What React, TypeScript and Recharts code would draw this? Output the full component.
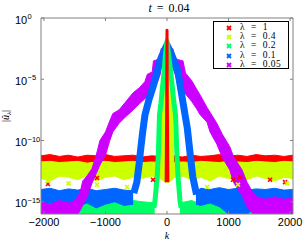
import React from 'react';
import { ComposedChart, Area, Line, Scatter, XAxis, YAxis, Legend } from 'recharts';

// ---------- axes / labels ----------
const X_DOMAIN = [-2048, 2048];
const X_TICKS = [-2000, -1000, 0, 1000, 2000];
const Y_DOMAIN = [1e-16, 1];
const Y_TICKS = [1e-15, 1e-10, 1e-5, 1];
const LEGEND_LABELS = ['λ = 1', 'λ = 0.4', 'λ = 0.2', 'λ = 0.1', 'λ = 0.05'];
const COLORS = ['#ff0000', '#ccff00', '#00ff66', '#0066ff', '#cc00ff'];

// ---------- data (log10 of |û_λ(k)|) ----------
// λ = 1 : noise floor band + narrow central spike + a few stray points
const RED_FLOOR_K = [-2048, -1900, -1750, -1600, -1450, -1300, -1150, -1000, -850, -700, -550, -400, -250, -100, 0, 100, 250, 400, 550, 700, 850, 1000, 1150, 1300, 1450, 1600, 1750, 1900, 2048];
const RED_FLOOR_HI = [-11.25, -11.15, -11.3, -11.2, -11.35, -11.2, -11.25, -11.15, -11.3, -11.25, -11.2, -11.35, -11.25, -11.3, -11.3, -11.25, -11.35, -11.2, -11.3, -11.25, -11.15, -11.3, -11.2, -11.3, -11.15, -11.25, -11.2, -11.3, -11.2];
const RED_FLOOR_LO = -12.3;
const RED_SPIKE_K = [-14, -5, -1.5, 0, 1.5, 5, 14];
const RED_SPIKE_E = [-13.4, -7, -2.5, -1.0, -2.5, -7, -13.4];
const RED_OUT_K = [-1935, -1138, -228, 1073, 1187, 1675, 1919];
const RED_OUT_E = [-13.55, -13.06, -13.2, -13.2, -12.98, -13.2, -13.4];

// λ = 0.4 : floor band with central spike
const YEL_K = [-2048, -1900, -1750, -1600, -1450, -1300, -1150, -1000, -850, -700, -550, -400, -250, -110, -90, -55, -30, -12, 0, 12, 30, 55, 90, 110, 250, 400, 550, 700, 850, 1000, 1150, 1300, 1450, 1600, 1750, 1900, 2048];
const YEL_HI = [-11.75, -11.7, -11.8, -11.75, -11.7, -11.85, -11.75, -11.7, -11.8, -11.75, -11.7, -11.8, -11.75, -11.8, -8.0, -4.0, -2.0, -1.6, -1.5, -1.6, -2.0, -4.0, -8.0, -11.8, -11.75, -11.8, -11.7, -11.75, -11.8, -11.7, -11.75, -11.8, -11.7, -11.75, -11.8, -11.7, -11.75];
const YEL_LO = [-13.1, -13.3, -12.9, -13.0, -13.2, -12.9, -13.3, -13.0, -12.9, -13.2, -13.0, -13.1, -12.9, -13.0, -13.2, -13.3, -13.4, -13.4, -13.4, -13.4, -13.4, -13.3, -13.2, -13.0, -12.9, -13.2, -13.0, -13.3, -12.9, -13.1, -13.0, -13.2, -12.9, -13.1, -13.3, -13.0, -13.1];
const YEL_OUT_K = [-1935, -1600, -1138, -650, 650, 1154, 1951];
const YEL_OUT_E = [-13.3, -13.5, -13.6, -13.8, -13.8, -13.6, -13.5];

// λ = 0.2 : tent + floor
const GRN_TENT_K = [-215, -195, -160, -140, -122, -100, -45, -25, 0, 25, 57, 115, 138, 160, 180, 211, 230];
const GRN_TENT_E = [-15.5, -14.9, -13, -11, -7.9, -7.0, -4.24, -3.0, -1.9, -3.0, -4.24, -7.0, -7.9, -11, -13, -14.9, -15.5];
const GRN_FLOOR_LK = [-2048, -1900, -1750, -1600, -1450, -1300, -1150, -1000, -850, -700, -550, -400, -200];
const GRN_FLOOR_LHI = [-15.3, -15.1, -15.4, -15.0, -15.2, -14.9, -15.3, -15.0, -14.8, -15.2, -14.9, -15.0, -15.1];
const GRN_FLOOR_RK = [210, 400, 550, 700, 850, 1000, 1150, 1300, 1450, 1600, 1750, 1900, 2048];
const GRN_FLOOR_RHI = [-15.1, -14.9, -15.2, -14.8, -15.0, -15.3, -15.1, -15.4, -15.2, -15.3, -15.1, -15.4, -15.2];
const GRN_FLOOR_LO = -16;

// λ = 0.1 : tent + floor
const BLU_TENT_K = [-540, -490, -455, -430, -400, -358, -290, -220, -154, -100, -40, 0, 40, 100, 171, 230, 293, 330, 374, 420, 480];
const BLU_TENT_E = [-14.3, -13.4, -12.0, -10.8, -9.5, -7.9, -6.6, -5.5, -4.24, -3.3, -2.6, -2.2, -2.6, -3.3, -4.24, -6.0, -7.9, -9.0, -11.0, -13.0, -14.4];
const BLU_FLOOR_LK = [-2048, -1900, -1750, -1600, -1450, -1300, -1150, -1000, -850, -700, -550];
const BLU_FLOOR_LHI = [-14.0, -13.9, -14.1, -13.95, -14.05, -13.9, -14.1, -14.0, -13.9, -14.05, -14.1];
const BLU_FLOOR_LLO = [-15.2, -15.1, -15.3, -15.15, -15.4, -15.1, -15.5, -15.2, -15.0, -15.3, -15.2];
const BLU_FLOOR_RK = [470, 550, 700, 850, 1000, 1150, 1300, 1450, 1600, 1750, 1900, 2048];
const BLU_FLOOR_RHI = [-14.2, -13.9, -14.0, -13.85, -14.0, -13.9, -14.05, -13.95, -14.0, -13.9, -14.05, -14.0];
const BLU_FLOOR_RLO = [-15.2, -15.3, -15.1, -15.4, -16, -16, -16, -15.5, -15.5, -15.5, -15.5, -15.5];

// λ = 0.05 : wide staircase band
const MAG_K = [-2048, -1900, -1750, -1600, -1520, -1450, -1410, -1370, -1300, -1220, -1150, -1090, -1000, -930, -880, -780, -680, -550, -450, -360, -320, -240, -220, -160, -110, -95, 0, 95, 135, 180, 260, 300, 400, 480, 540, 650, 700, 810, 900, 1020, 1080, 1220, 1300, 1400, 1460, 1600, 1750, 1900, 2048];
const MAG_HI = [-15.0, -15.2, -14.9, -15.1, -15.0, -14.6, -14.2, -13.3, -12.9, -12.3, -11.2, -10.0, -9.3, -8.4, -7.8, -7.5, -6.9, -6.1, -5.7, -5.2, -4.6, -4.4, -3.5, -3.4, -3.3, -2.5, -2.45, -2.5, -3.3, -3.4, -3.5, -4.5, -5.1, -5.8, -6.3, -7.3, -7.7, -8.6, -9.5, -10.5, -11.3, -12.4, -13.4, -14.3, -14.6, -14.8, -14.6, -14.8, -14.7];
const MAG_LO = [-16, -16, -16, -16, -16, -16, -15.7, -15.3, -14.6, -13.5, -12.7, -12.0, -11.2, -10.0, -9.3, -8.6, -8.1, -7.5, -7.0, -6.6, -6.4, -6.0, -5.7, -5.3, -4.6, -4.1, -3.6, -4.1, -4.6, -5.3, -5.9, -6.2, -6.8, -7.4, -7.9, -8.5, -9.3, -10.3, -11.4, -12.4, -13.4, -14.5, -15.4, -16, -16, -16, -16, -16, -16];

// ---------- helpers building library data tables ----------
const pw = (e: number) => Math.pow(10, e);
const band = (ks: number[], lo: number[] | number, hi: number[]) =>
  ks.map((k, i) => ({ k, v: [pw(Array.isArray(lo) ? lo[i] : lo), pw(hi[i])] }));
const pts = (ks: number[], es: number[]) => ks.map((k, i) => ({ k, v: pw(es[i]) }));

const redFloor = band(RED_FLOOR_K, RED_FLOOR_LO, RED_FLOOR_HI);
const redSpike = pts(RED_SPIKE_K, RED_SPIKE_E);
const redOut = pts(RED_OUT_K, RED_OUT_E);
const yel = band(YEL_K, YEL_LO, YEL_HI);
const yelOut = pts(YEL_OUT_K, YEL_OUT_E);
const grnTent = pts(GRN_TENT_K, GRN_TENT_E);
const grnFloorL = band(GRN_FLOOR_LK, GRN_FLOOR_LO, GRN_FLOOR_LHI);
const grnFloorR = band(GRN_FLOOR_RK, GRN_FLOOR_LO, GRN_FLOOR_RHI);
const bluTent = pts(BLU_TENT_K, BLU_TENT_E);
const bluFloorL = band(BLU_FLOOR_LK, BLU_FLOOR_LLO, BLU_FLOOR_LHI);
const bluFloorR = band(BLU_FLOOR_RK, BLU_FLOOR_RLO, BLU_FLOOR_RHI);
const mag = band(MAG_K, MAG_LO, MAG_HI);

const SANS = '"Liberation Sans", Arial, Helvetica, sans-serif';
const SERIF = '"Liberation Serif", "DejaVu Serif", serif';
const AXIS_GRAY = '#808080';

const YTick = (props: any) => {
  const { x, y, payload } = props;
  const e = Math.round(Math.log10(payload.value));
  const ex = e < 0 ? '\u2212' + Math.abs(e) : String(e);
  return (
    <g>
      <text x={x - 26} y={y + 5.5} fontSize={11} fontFamily={SANS} fill="#000">10</text>
      <text x={x - 13.5} y={y + 1} fontSize={7.5} fontFamily={SANS} fill="#000">{ex}</text>
    </g>
  );
};

const XCross = (color: string) => (props: any) => {
  const { cx, cy } = props;
  if (cx == null || cy == null) return <g />;
  const s = 2;
  return (
    <g stroke={color} strokeWidth={1.6}>
      <line x1={cx - s} y1={cy - s} x2={cx + s} y2={cy + s} />
      <line x1={cx - s} y1={cy + s} x2={cx + s} y2={cy - s} />
    </g>
  );
};

const TitleLabel = (props: any) => {
  const vb = props.viewBox || { x: 41, y: 0, width: 252, height: 18 };
  return (
    <text x={vb.x + vb.width / 2 + 2} y={12} textAnchor="middle" fontSize={12} fontFamily={SERIF} fill="#000" style={{ wordSpacing: 2 }}>
      <tspan fontStyle="italic">t</tspan>
      <tspan> = 0.04</tspan>
    </text>
  );
};

const KLabel = (props: any) => {
  const vb = props.viewBox || { x: 41, y: 214, width: 252, height: 27 };
  return (
    <text x={vb.x + vb.width / 2} y={238.5} textAnchor="middle" fontSize={10} fontStyle="italic" fontFamily={SERIF} fill="#000">k</text>
  );
};

const ULabel = () => (
  <text transform="translate(8.5,116) rotate(-90)" textAnchor="middle" fontSize={10} fontFamily={SERIF} fill="#000">
    <tspan>|</tspan>
    <tspan fontStyle="italic">û</tspan>
    <tspan fontSize={7} dy={2} fontStyle="italic">λ</tspan>
    <tspan dy={-2}>|</tspan>
  </text>
);

const LegendBox = () => (
  <div style={{ position: 'relative', width: 76, height: 48, border: '1px solid #000', background: '#fff', boxSizing: 'border-box' }}>
    {LEGEND_LABELS.map((lab, i) => (
      <div key={lab} style={{ position: 'absolute', left: 0, top: 1 + i * 9.2, height: 9, width: 76 }}>
        <svg width={8} height={8} style={{ position: 'absolute', left: 11, top: 1 }}>
          <g stroke={COLORS[i]} strokeWidth={1.8}>
            <line x1={2} y1={2} x2={6} y2={6} />
            <line x1={2} y1={6} x2={6} y2={2} />
          </g>
        </svg>
        <span style={{ position: 'absolute', left: 26, top: -1, fontFamily: SERIF, fontSize: 9.5, lineHeight: '10px', whiteSpace: 'nowrap', wordSpacing: 3, letterSpacing: 0.5, color: '#000' }}>{lab}</span>
      </div>
    ))}
  </div>
);

export default function App() {
  return (
    <div style={{ position: 'absolute', left: 0, top: 0, width: 305, height: 241, background: '#fff' }}>
      <ComposedChart width={305} height={241} margin={{ top: 0, right: 0, bottom: 0, left: 0 }}>
        <XAxis
          dataKey="k"
          type="number"
          domain={X_DOMAIN}
          allowDataOverflow
          ticks={X_TICKS}
          height={27}
          tickSize={-3}
          tickMargin={7}
          stroke={AXIS_GRAY}
          tick={{ fill: '#000', fontSize: 11, fontFamily: SANS }}
          tickFormatter={(v: number) => String(v).replace('-', '\u2212')}
          label={<KLabel />}
        />
        <XAxis
          xAxisId="top"
          orientation="top"
          dataKey="k"
          type="number"
          domain={X_DOMAIN}
          allowDataOverflow
          ticks={X_TICKS}
          height={18}
          tickSize={-3}
          stroke={AXIS_GRAY}
          tickFormatter={() => ''}
          label={<TitleLabel />}
        />
        <YAxis
          dataKey="v"
          type="number"
          scale="log"
          domain={Y_DOMAIN}
          allowDataOverflow
          ticks={Y_TICKS}
          width={41}
          tickSize={-3}
          tickMargin={3}
          stroke={AXIS_GRAY}
          tick={<YTick />}
          label={<ULabel />}
        />
        <YAxis
          yAxisId="right"
          orientation="right"
          type="number"
          scale="log"
          domain={Y_DOMAIN}
          allowDataOverflow
          ticks={Y_TICKS}
          width={12}
          tickSize={-3}
          stroke={AXIS_GRAY}
          tickFormatter={() => ''}
        />
        <Legend
          layout="vertical"
          align="center"
          verticalAlign="middle"
          wrapperStyle={{ position: 'absolute', left: 213, top: 21, width: 76, height: 48, margin: 0, padding: 0 }}
          content={() => <LegendBox />}
        />

        <Area data={redFloor} dataKey="v" type="linear" stroke={COLORS[0]} strokeWidth={1} fill={COLORS[0]} fillOpacity={1} isAnimationActive={false} dot={false} activeDot={false} legendType="none" />
        <Area data={yel} dataKey="v" type="linear" stroke={COLORS[1]} strokeWidth={1} fill={COLORS[1]} fillOpacity={1} isAnimationActive={false} dot={false} activeDot={false} legendType="none" />
        <Scatter data={redOut} dataKey="v" fill={COLORS[0]} shape={XCross(COLORS[0])} isAnimationActive={false} legendType="none" />
        <Scatter data={yelOut} dataKey="v" fill={COLORS[1]} shape={XCross(COLORS[1])} isAnimationActive={false} legendType="none" />
        <Area data={grnFloorL} dataKey="v" type="linear" stroke={COLORS[2]} strokeWidth={1} fill={COLORS[2]} fillOpacity={1} isAnimationActive={false} dot={false} activeDot={false} legendType="none" />
        <Area data={grnFloorR} dataKey="v" type="linear" stroke={COLORS[2]} strokeWidth={1} fill={COLORS[2]} fillOpacity={1} isAnimationActive={false} dot={false} activeDot={false} legendType="none" />
        <Area data={bluFloorL} dataKey="v" type="linear" stroke={COLORS[3]} strokeWidth={1} fill={COLORS[3]} fillOpacity={1} isAnimationActive={false} dot={false} activeDot={false} legendType="none" />
        <Area data={bluFloorR} dataKey="v" type="linear" stroke={COLORS[3]} strokeWidth={1} fill={COLORS[3]} fillOpacity={1} isAnimationActive={false} dot={false} activeDot={false} legendType="none" />
        <Area data={mag} dataKey="v" type="linear" stroke={COLORS[4]} strokeWidth={1} fill={COLORS[4]} fillOpacity={1} isAnimationActive={false} dot={false} activeDot={false} legendType="none" />
        <Line data={bluTent} dataKey="v" type="linear" stroke={COLORS[3]} strokeWidth={7} strokeLinejoin="round" dot={false} activeDot={false} isAnimationActive={false} legendType="none" />
        <Line data={grnTent} dataKey="v" type="linear" stroke={COLORS[2]} strokeWidth={5} strokeLinejoin="round" dot={false} activeDot={false} isAnimationActive={false} legendType="none" />
        <Line data={redSpike} dataKey="v" type="linear" stroke={COLORS[0]} strokeWidth={3} strokeLinejoin="round" dot={false} activeDot={false} isAnimationActive={false} legendType="none" />
      </ComposedChart>
    </div>
  );
}
